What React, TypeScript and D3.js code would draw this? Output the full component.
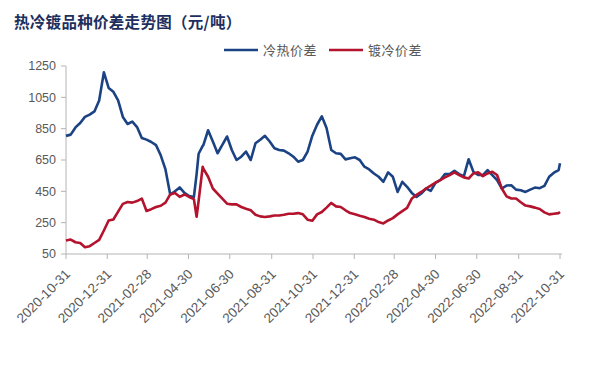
import { useEffect, useRef } from "react";
import * as d3 from "d3";

// weekly samples (plus a few extra points around the May 2021 swing)
const dates = [
  "2020-10-31", "2020-11-07", "2020-11-14", "2020-11-21", "2020-11-28", "2020-12-05", "2020-12-12", "2020-12-19", "2020-12-26",
  "2021-01-02", "2021-01-09", "2021-01-16", "2021-01-23", "2021-01-30", "2021-02-06", "2021-02-13", "2021-02-20", "2021-02-27",
  "2021-03-06", "2021-03-13", "2021-03-20", "2021-03-27", "2021-04-03", "2021-04-10", "2021-04-17", "2021-04-24", "2021-05-01",
  "2021-05-08", "2021-05-12", "2021-05-15", "2021-05-21", "2021-05-22", "2021-05-29", "2021-06-05", "2021-06-12", "2021-06-19",
  "2021-06-26", "2021-07-03", "2021-07-10", "2021-07-17", "2021-07-24", "2021-07-31", "2021-08-07", "2021-08-14", "2021-08-21",
  "2021-08-28", "2021-09-04", "2021-09-11", "2021-09-18", "2021-09-25", "2021-10-02", "2021-10-09", "2021-10-16", "2021-10-23",
  "2021-10-30", "2021-11-06", "2021-11-13", "2021-11-20", "2021-11-27", "2021-12-04", "2021-12-11", "2021-12-18", "2021-12-25",
  "2022-01-01", "2022-01-08", "2022-01-15", "2022-01-22", "2022-01-29", "2022-02-05", "2022-02-12", "2022-02-19", "2022-02-26",
  "2022-03-05", "2022-03-12", "2022-03-19", "2022-03-26", "2022-04-02", "2022-04-09", "2022-04-16", "2022-04-23", "2022-04-30",
  "2022-05-07", "2022-05-14", "2022-05-21", "2022-05-28", "2022-06-04", "2022-06-11", "2022-06-18", "2022-06-25", "2022-07-02",
  "2022-07-09", "2022-07-16", "2022-07-23", "2022-07-30", "2022-08-06", "2022-08-13", "2022-08-20", "2022-08-27", "2022-09-03",
  "2022-09-10", "2022-09-17", "2022-09-24", "2022-10-01", "2022-10-08", "2022-10-15", "2022-10-22", "2022-10-29", "2022-10-31",
];

// 冷热价差
const coldHot = [
  804, 812, 858, 886, 925, 940, 960, 1030, 1210,
  1110, 1085, 1030, 925, 880, 895, 860, 790, 780,
  765, 745, 680, 590, 430, 450, 475, 440, 420,
  414, 560, 690, 740, 745, 840, 768, 693, 746,
  800, 714, 650, 671, 704, 650, 757, 779, 804,
  768, 725, 714, 710, 693, 671, 639, 650, 704,
  805, 875, 929, 854, 714, 693, 689, 654, 661,
  667, 650, 607, 590, 564, 543, 511, 571, 543,
  446, 511, 479, 440, 414, 436, 468, 453, 504,
  521, 560, 560, 581, 560, 547, 655, 575, 554,
  554, 586, 554, 521, 468, 487, 489, 461, 457,
  446, 461, 474, 470, 485, 543, 569, 586, 629,
];

// 镀冷价差
const galvCold = [
  136, 142, 125, 120, 93, 100, 120, 140, 200,
  264, 270, 320, 370, 382, 378, 388, 404, 325,
  336, 350, 358, 378, 430, 440, 415, 430, 414,
  400, 288, 390, 607, 595, 543, 468, 436, 404,
  371, 367, 367, 350, 339, 329, 301, 290, 286,
  290, 296, 296, 301, 307, 307, 311, 303, 269,
  262, 303, 318, 346, 376, 354, 350, 329, 311,
  303, 294, 286, 275, 269, 254, 245, 264, 279,
  303, 324, 344, 404, 427, 446, 468, 487, 506,
  521, 539, 554, 571, 554, 539, 532, 564, 571,
  547, 564, 575, 554, 468, 418, 404, 404, 380,
  359, 354, 346, 337, 316, 303, 307, 311, 318,
];

const tickLabels = [
  "2020-10-31", "2020-12-31", "2021-02-28", "2021-04-30", "2021-06-30", "2021-08-31", "2021-10-31",
  "2021-12-31", "2022-02-28", "2022-04-30", "2022-06-30", "2022-08-31", "2022-10-31",
];
const yTicks = [50, 250, 450, 650, 850, 1050, 1250];

const series = [
  { name: "冷热价差", values: coldHot, color: "#1b4383" },
  { name: "镀冷价差", values: galvCold, color: "#b3132c" },
];

export default function App() {
  const svgRef = useRef<SVGSVGElement | null>(null);

  useEffect(() => {
    if (!svgRef.current) return;

    const width = 595;
    const height = 375;
    const margin = { top: 66, right: 35, bottom: 121, left: 66 };
    const w = width - margin.left - margin.right;
    const h = height - margin.top - margin.bottom;
    const parse = d3.timeParse("%Y-%m-%d");
    const xs = dates.map(d => parse(d) as Date);

    const svg = d3.select(svgRef.current);
    svg.selectAll("*").remove();
    svg.attr("width", width).attr("height", height);
    svg.append("rect").attr("width", width).attr("height", height).attr("fill", "#fff");

    svg.append("text")
      .attr("x", 14)
      .attr("y", 28)
      .attr("font-family", "Noto Sans CJK SC")
      .attr("font-size", 15.5)
      .attr("font-weight", 700)
      .attr("letter-spacing", 0.3)
      .attr("fill", "#1c2f5e")
      .text("热冷镀品种价差走势图（元/吨）");

    const x = d3.scaleTime()
      .domain([parse(tickLabels[0]) as Date, parse(tickLabels[tickLabels.length - 1]) as Date])
      .range([0, w]);
    const y = d3.scaleLinear().domain([50, 1250]).range([h, 0]);

    const g = svg.append("g").attr("transform", `translate(${margin.left},${margin.top})`);

    // axes
    const axisColor = "#b4b4b4";
    g.append("line").attr("x1", 0).attr("x2", 0).attr("y1", 0).attr("y2", h).attr("stroke", axisColor);
    g.append("line").attr("x1", 0).attr("x2", w + 2).attr("y1", h).attr("y2", h).attr("stroke", axisColor);

    g.selectAll(".ytick").data(yTicks).join("line")
      .attr("x1", -5).attr("x2", 0)
      .attr("y1", d => y(d)).attr("y2", d => y(d))
      .attr("stroke", axisColor);
    g.selectAll(".ylab").data(yTicks).join("text")
      .attr("x", -10)
      .attr("y", d => y(d))
      .attr("dy", "0.35em")
      .attr("text-anchor", "end")
      .attr("font-family", "Liberation Sans, Arial, sans-serif")
      .attr("font-size", 12.5)
      .attr("fill", "#595959")
      .text(d => d);

    g.selectAll(".xtick").data(tickLabels).join("line")
      .attr("x1", d => x(parse(d) as Date)).attr("x2", d => x(parse(d) as Date))
      .attr("y1", h).attr("y2", h + 5)
      .attr("stroke", axisColor);
    g.selectAll(".xlab").data(tickLabels).join("text")
      .attr("transform", d => `translate(${x(parse(d) as Date) + 5},${h + 21}) rotate(-45)`)
      .attr("text-anchor", "end")
      .attr("font-family", "Liberation Sans, Arial, sans-serif")
      .attr("font-size", 13.5)
      .attr("fill", "#595959")
      .text(d => d);

    // lines
    series.forEach(s => {
      const line = d3.line<number>()
        .x((_, i) => x(xs[i]))
        .y(d => y(d));
      g.append("path")
        .datum(s.values)
        .attr("d", line)
        .attr("fill", "none")
        .attr("stroke", s.color)
        .attr("stroke-width", 2.6)
        .attr("stroke-linejoin", "round");
    });

    // legend
    const lg = svg.append("g").attr("transform", "translate(224,50)");
    series.forEach((s, i) => {
      const ox = i * 105;
      lg.append("line").attr("x1", ox).attr("x2", ox + 34).attr("y1", 0).attr("y2", 0)
        .attr("stroke", s.color).attr("stroke-width", 2.6);
      lg.append("text")
        .attr("x", ox + 39)
        .attr("y", 0)
        .attr("dy", "0.35em")
        .attr("font-family", "Noto Sans CJK SC")
        .attr("font-size", 13)
        .attr("letter-spacing", 0.5)
        .attr("fill", "#595959")
        .text(s.name);
    });
  }, []);

  return <svg ref={svgRef} style={{ position: "absolute", left: 0, top: 0 }} />;
}
